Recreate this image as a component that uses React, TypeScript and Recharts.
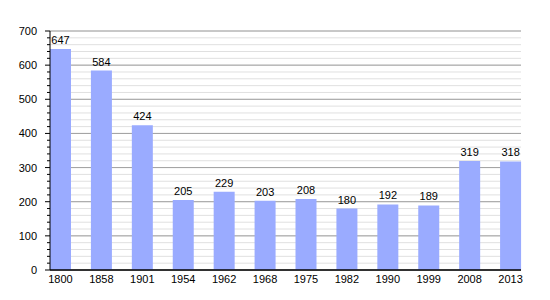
import React from 'react';
import { BarChart, Bar, XAxis, YAxis, CartesianGrid, LabelList } from 'recharts';

const years = ['1800', '1858', '1901', '1954', '1962', '1968', '1975', '1982', '1990', '1999', '2008', '2013'];
const population = [647, 584, 424, 205, 229, 203, 208, 180, 192, 189, 319, 318];
const yTicks = [0, 20, 40, 60, 80, 100, 120, 140, 160, 180, 200, 220, 240, 260, 280, 300, 320, 340, 360, 380, 400, 420, 440, 460, 480, 500, 520, 540, 560, 580, 600, 620, 640, 660, 680, 700];
const majorTicks = [0, 100, 200, 300, 400, 500, 600, 700];

const data = years.map((y, i) => ({ year: y, value: population[i] }));

const FONT = 'Liberation Sans, Arial, sans-serif';

const YTick = (props: any) => {
  const { x, y, payload } = props;
  const v = payload.value as number;
  const major = majorTicks.includes(v);
  return (
    <g>
      <line x1={x - (major ? 5 : 3)} y1={y} x2={x} y2={y} stroke="#000" strokeWidth={1} />
      {major && (
        <text x={x - 13} y={y} dy={4} textAnchor="end" fontSize={11} fontFamily={FONT} fill="#000">
          {v}
        </text>
      )}
    </g>
  );
};

export default function App() {
  return (
    <div style={{ position: 'absolute', left: 0, top: 0, background: '#fff' }}>
      <BarChart
        width={550}
        height={300}
        data={data}
        margin={{ top: 31, right: 29, bottom: 0, left: 0 }}
      >
        <CartesianGrid vertical={false} stroke="#e0e0e0" />
        <CartesianGrid vertical={false} horizontalValues={majorTicks} stroke="#a0a0a0" />
        <XAxis
          dataKey="year"
          height={30}
          tickSize={0}
          tickMargin={5}
          padding={{ left: -10, right: -10 }}
          axisLine={{ stroke: '#000', strokeWidth: 1.5 }}
          tick={{ fontSize: 11, fontFamily: FONT, fill: '#000' }}
          interval={0}
        />
        <YAxis
          width={50}
          domain={[0, 700]}
          ticks={yTicks}
          interval={0}
          tickLine={false}
          tickSize={0}
          tickMargin={0}
          axisLine={{ stroke: '#000', strokeWidth: 1 }}
          tick={<YTick />}
        />
        <Bar dataKey="value" fill="#9aabff" barSize={21} isAnimationActive={false}>
          <LabelList dataKey="value" position="top" offset={5} fontSize={11} fontFamily={FONT} fill="#000" />
        </Bar>
      </BarChart>
    </div>
  );
}
